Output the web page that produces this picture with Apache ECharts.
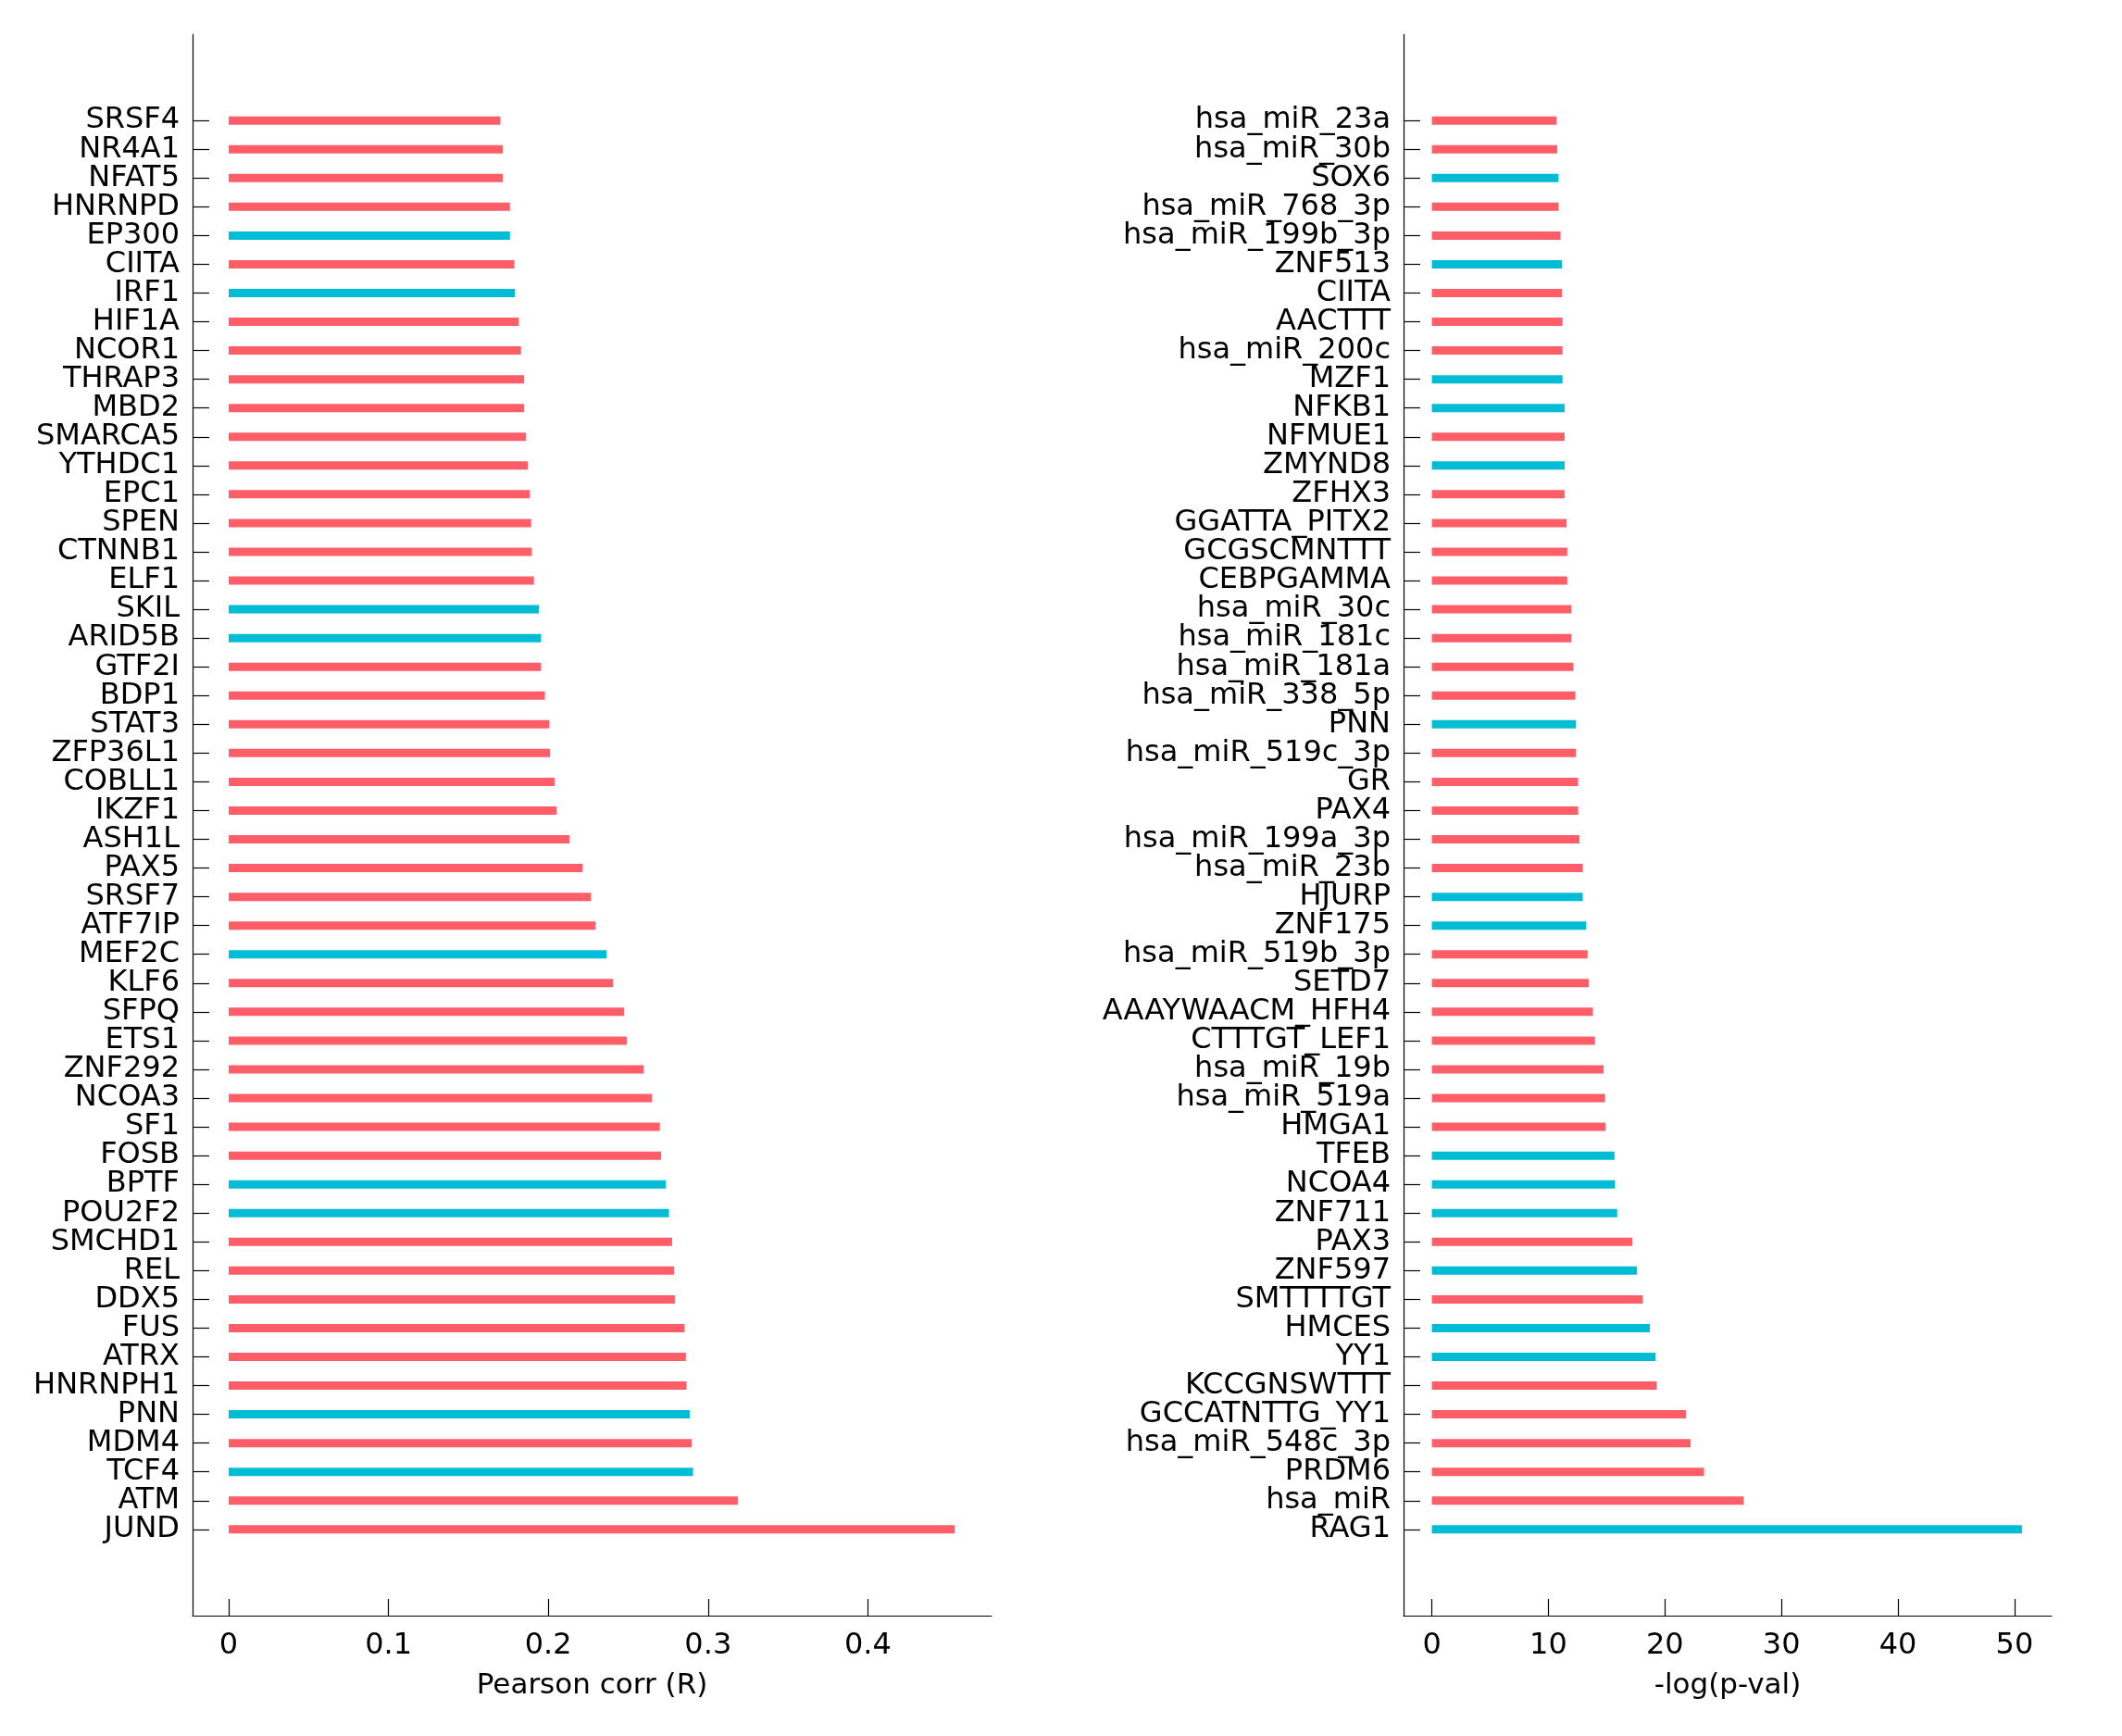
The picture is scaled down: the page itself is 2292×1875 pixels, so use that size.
<!DOCTYPE html>
<html>
<head>
<meta charset="utf-8">
<script src="https://cdn.jsdelivr.net/npm/echarts@6/dist/echarts.min.js"></script>
<style>html,body{margin:0;padding:0;background:#fff;}#c{width:2292px;height:1875px;}</style>
</head>
<body>
<div id="c"></div>
<script>
// ---- data (top to bottom) ----
const leftCategories = ["SRSF4","NR4A1","NFAT5","HNRNPD","EP300","CIITA","IRF1","HIF1A","NCOR1","THRAP3","MBD2","SMARCA5","YTHDC1","EPC1","SPEN","CTNNB1","ELF1","SKIL","ARID5B","GTF2I","BDP1","STAT3","ZFP36L1","COBLL1","IKZF1","ASH1L","PAX5","SRSF7","ATF7IP","MEF2C","KLF6","SFPQ","ETS1","ZNF292","NCOA3","SF1","FOSB","BPTF","POU2F2","SMCHD1","REL","DDX5","FUS","ATRX","HNRNPH1","PNN","MDM4","TCF4","ATM","JUND"];
const leftValues = [0.170,0.1715,0.1715,0.176,0.176,0.1788,0.1792,0.1816,0.1829,0.1849,0.1849,0.1861,0.1873,0.1885,0.1893,0.1897,0.1910,0.1942,0.1955,0.1955,0.1979,0.2007,0.2011,0.2040,0.2052,0.2133,0.2215,0.2268,0.2296,0.2365,0.2406,0.2475,0.2491,0.2597,0.2650,0.2698,0.2706,0.2735,0.2755,0.2775,0.2788,0.2792,0.2853,0.2861,0.2865,0.2885,0.2897,0.2906,0.3186,0.4543];
const leftCyan = ["EP300","IRF1","SKIL","ARID5B","MEF2C","BPTF","POU2F2","PNN","TCF4"];
const leftTicks = [0,0.1,0.2,0.3,0.4];

const rightCategories = ["hsa_miR_23a","hsa_miR_30b","SOX6","hsa_miR_768_3p","hsa_miR_199b_3p","ZNF513","CIITA","AACTTT","hsa_miR_200c","MZF1","NFKB1","NFMUE1","ZMYND8","ZFHX3","GGATTA_PITX2","GCGSCMNTTT","CEBPGAMMA","hsa_miR_30c","hsa_miR_181c","hsa_miR_181a","hsa_miR_338_5p","PNN","hsa_miR_519c_3p","GR","PAX4","hsa_miR_199a_3p","hsa_miR_23b","HJURP","ZNF175","hsa_miR_519b_3p","SETD7","AAAYWAACM_HFH4","CTTTGT_LEF1","hsa_miR_19b","hsa_miR_519a","HMGA1","TFEB","NCOA4","ZNF711","PAX3","ZNF597","SMTTTTGT","HMCES","YY1","KCCGNSWTTT","GCCATNTTG_YY1","hsa_miR_548c_3p","PRDM6","hsa_miR","RAG1"];
const rightValues = [10.70,10.76,10.87,10.87,11.04,11.16,11.16,11.21,11.21,11.21,11.39,11.39,11.39,11.39,11.56,11.62,11.62,11.97,11.97,12.14,12.31,12.37,12.37,12.55,12.55,12.66,12.95,12.95,13.24,13.36,13.47,13.82,13.99,14.74,14.86,14.91,15.67,15.72,15.9,17.2,17.6,18.1,18.7,19.2,19.3,21.8,22.2,23.36,26.76,50.63];
const rightCyan = ["SOX6","ZNF513","MZF1","NFKB1","ZMYND8","PNN","HJURP","ZNF175","TFEB","NCOA4","ZNF711","ZNF597","HMCES","YY1","RAG1"];
const rightTicks = [0,10,20,30,40,50];

const RED = '#FF5E69', CYAN = '#00BCD5';
const PAD = 3;
const FONT = 'DejaVu Sans';

function padCats(c){ const p = Array(PAD).fill(''); return p.concat(c, p); }
function padData(cats, vals, cyan){
  const p = Array(PAD).fill(null);
  const d = cats.map((n,i)=>({value: vals[i], itemStyle:{color: cyan.includes(n) ? CYAN : RED}}));
  return p.concat(d, p);
}
function yAxisCfg(idx, cats){
  const n = cats.length;
  return {
    type:'category', gridIndex: idx, inverse:true, boundaryGap:false,
    data: padCats(cats),
    axisLine:{show:true, onZero:false, lineStyle:{color:'#000', width:1.2}},
    axisTick:{show:true, inside:true, length:18, lineStyle:{color:'#000', width:1.2},
      interval:(i)=> i>=PAD && i<PAD+n},
    axisLabel:{interval:0, fontSize:32, fontFamily:FONT, color:'#000', margin:14, padding:[8,0,0,0]},
    splitLine:{show:false}
  };
}
function xAxisCfg(idx, min, max, ticks, name){
  return {
    type:'value', gridIndex: idx, min:min, max:max,
    axisLine:{show:true, onZero:false, lineStyle:{color:'#000', width:1.2}},
    axisTick:{show:true, inside:true, length:18, customValues:ticks, lineStyle:{color:'#000', width:1.2}},
    axisLabel:{customValues:ticks, fontSize:32, fontFamily:FONT, color:'#000', margin:17},
    splitLine:{show:false},
    name:name, nameLocation:'middle', nameGap:60,
    nameTextStyle:{fontSize:31, fontFamily:FONT, color:'#000'}
  };
}

const chart = echarts.init(document.getElementById('c'), null, {renderer:'canvas'});
chart.setOption({
  animation:false,
  backgroundColor:'#fff',
  grid:[
    {left:208, top:37, width:863, height:1708},
    {left:1516, top:37, width:700, height:1708}
  ],
  xAxis:[
    xAxisCfg(0, -0.0226, 0.4774, leftTicks, 'Pearson corr (R)'),
    xAxisCfg(1, -2.43, 53.18, rightTicks, '-log(p-val)')
  ],
  yAxis:[ yAxisCfg(0, leftCategories), yAxisCfg(1, rightCategories) ],
  series:[
    {type:'bar', xAxisIndex:0, yAxisIndex:0, barWidth:9, data: padData(leftCategories, leftValues, leftCyan)},
    {type:'bar', xAxisIndex:1, yAxisIndex:1, barWidth:9, data: padData(rightCategories, rightValues, rightCyan)}
  ]
});
</script>
</body>
</html>
